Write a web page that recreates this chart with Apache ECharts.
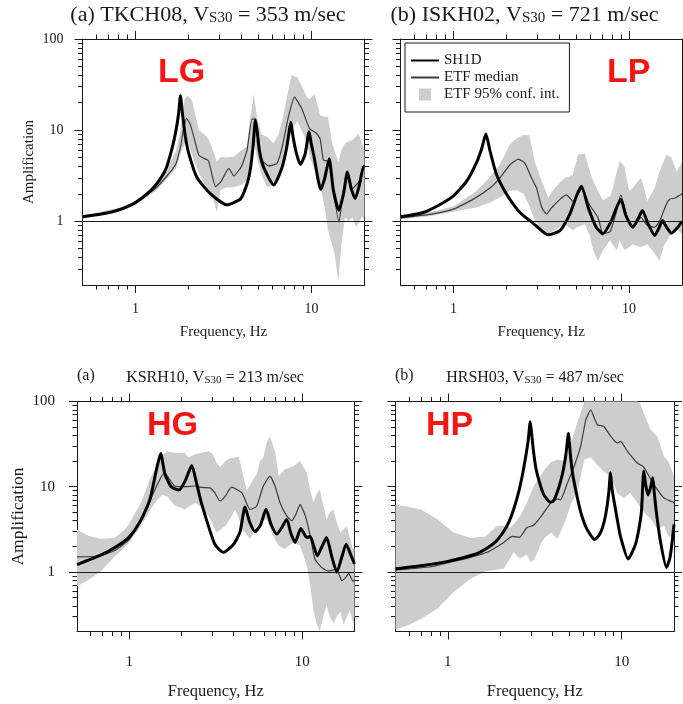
<!DOCTYPE html>
<html><head><meta charset="utf-8">
<script src="https://cdn.jsdelivr.net/npm/echarts@6/dist/echarts.min.js"></script>
<style>html,body{margin:0;padding:0;background:#fff}#c{width:683px;height:704px}</style>
</head><body><div id="c"></div>
<script>
// ---------- tick values ----------
const xMajorTicks = [1, 10];
const xMinorTicks = [0.6, 0.7, 0.8, 0.9, 2, 3, 4, 5, 6, 7, 8, 9];
const yMajorTicks = [1, 10, 100];
const yMinorTicks = [0.3, 0.4, 0.5, 0.6, 0.7, 0.8, 0.9, 2, 3, 4, 5, 6, 7, 8, 9, 20, 30, 40, 50, 60, 70, 80, 90];

// ---------- (a) TKCH08 ----------
const tlShX = [0.5, 0.64, 0.8, 1.0, 1.22, 1.38, 1.5, 1.62, 1.7, 1.76, 1.8, 1.85, 1.92, 2.01, 2.24, 2.67, 3.3, 3.95, 4.3, 4.5, 4.65, 4.8, 4.92, 5.05, 5.35, 6.1, 6.8, 7.2, 7.45, 7.63, 7.85, 8.2, 8.65, 9.2, 9.69, 9.95, 10.3, 11.3, 11.9, 12.6, 13.3, 14.3, 15.2, 16.0, 16.8, 17.7, 18.8, 19.7, 20];
const tlShY = [1.12, 1.2, 1.33, 1.61, 2.17, 2.9, 3.9, 6.5, 10, 15.5, 23.8, 15, 8.5, 5.5, 3.0, 2.0, 1.52, 1.76, 2.56, 3.8, 6.5, 12.9, 9.5, 6.0, 3.9, 2.5, 3.9, 6.2, 9.5, 12.2, 8.5, 5.6, 4.2, 5.5, 9.6, 7.2, 5.3, 2.23, 3.0, 4.85, 2.2, 1.32, 2.0, 3.48, 2.3, 1.78, 2.6, 3.95, 3.9];
const tlMedX = [0.5, 0.8, 1.0, 1.3, 1.5, 1.69, 1.8, 1.87, 1.95, 2.05, 2.2, 2.29, 2.45, 2.6, 2.85, 3.05, 3.39, 3.62, 4.0, 4.3, 4.59, 4.8, 5.0, 5.23, 5.7, 6.36, 6.78, 7.39, 8.0, 8.8, 9.74, 10.7, 11.2, 11.7, 12.7, 13.3, 14.3, 15.2, 16.0, 16.8, 17.9, 18.8, 19.7, 20];
const tlMedY = [1.11, 1.32, 1.57, 2.3, 3.1, 4.2, 6.5, 10, 13.5, 11.5, 7, 5.3, 4.9, 4.6, 2.4, 2.7, 3.8, 3.15, 4.0, 6.0, 13.2, 13.2, 8.0, 4.7, 4.05, 4.3, 6.3, 14, 23, 17.3, 10.4, 9.2, 8.0, 4.7, 4.5, 2.2, 0.98, 2.2, 3.2, 2.2, 2.5, 2.8, 4.1, 4.0];
const tlBandX = [0.5, 0.8, 1.0, 1.3, 1.5, 1.7, 1.8, 1.9, 1.97, 2.1, 2.29, 2.45, 2.6, 2.75, 2.9, 3.04, 3.3, 3.6, 4.0, 4.3, 4.5, 4.7, 4.9, 5.2, 5.6, 6.1, 6.5, 6.9, 7.3, 7.7, 8.3, 9.0, 9.4, 9.8, 10.4, 11.2, 11.9, 12.4, 13.1, 13.5, 14.2, 14.8, 15.5, 16.2, 17.1, 17.9, 18.5, 19.2, 20];
const tlBandLo = [1.07, 1.27, 1.5, 2.15, 2.9, 3.8, 5.5, 7.0, 7.8, 5.2, 3.4, 2.6, 2.1, 1.8, 1.26, 2.2, 2.36, 2.36, 2.5, 2.8, 4.5, 7.6, 5.0, 3.2, 2.36, 2.5, 3.0, 4.2, 6.5, 9.8, 12.6, 9.0, 7.0, 5.0, 3.6, 2.4, 1.4, 0.8, 0.55, 0.45, 0.22, 0.57, 1.1, 1.0, 1.1, 0.87, 0.95, 1.1, 1.1];
const tlBandHi = [1.16, 1.4, 1.68, 2.5, 3.6, 6.0, 10, 22, 24, 21, 10, 9, 8, 6, 4.5, 5.1, 5.0, 5.1, 6.0, 6.6, 14, 25, 14, 9, 8.4, 7.2, 9, 14, 25, 40, 38, 28, 23, 22, 25, 14.6, 14, 14, 7.2, 6, 4.5, 6, 7.2, 7.5, 7.8, 8.5, 9.2, 7.5, 6.0];

// ---------- (b) ISKH02 ----------
const trShX = [0.5, 0.675, 0.85, 1.0, 1.19, 1.36, 1.45, 1.53, 1.62, 1.76, 2.01, 2.39, 2.85, 3.46, 4.04, 4.6, 5.06, 5.36, 5.85, 6.5, 7.1, 7.9, 8.4, 8.97, 9.6, 10.5, 11.2, 11.9, 12.8, 14.0, 14.8, 15.5, 16.4, 17.4, 18.8, 20];
const trShY = [1.12, 1.25, 1.55, 1.9, 2.76, 4.5, 6.3, 9.05, 5.8, 3.26, 1.98, 1.25, 0.95, 0.71, 0.79, 1.2, 1.98, 2.43, 1.42, 0.86, 0.73, 1.0, 1.35, 1.75, 1.15, 0.86, 1.05, 1.31, 0.95, 0.70, 0.85, 1.02, 0.85, 0.74, 0.85, 1.0];
const trMedX = [0.5, 0.75, 1.0, 1.3, 1.62, 1.84, 2.1, 2.34, 2.55, 2.78, 2.97, 3.18, 3.39, 3.6, 4.04, 4.4, 4.8, 5.36, 5.97, 6.65, 7.1, 7.8, 8.4, 8.97, 9.87, 10.5, 11.7, 12.7, 14.0, 14.9, 16.3, 17.0, 18.3, 20];
const trMedY = [1.09, 1.2, 1.36, 1.75, 2.33, 3.0, 4.17, 4.8, 4.35, 3.0, 2.33, 1.42, 1.2, 1.39, 1.74, 1.95, 1.65, 2.25, 1.5, 1.1, 0.73, 0.77, 1.2, 1.95, 1.0, 0.86, 1.1, 0.9, 0.86, 1.0, 1.54, 1.75, 1.8, 2.0];
const trBandX = [0.5, 0.75, 1.0, 1.35, 1.6, 1.84, 2.09, 2.28, 2.5, 2.7, 2.91, 3.18, 3.47, 3.78, 4.3, 4.77, 5.13, 5.6, 5.97, 6.24, 6.65, 7.1, 7.8, 8.1, 8.5, 8.84, 9.4, 10.0, 10.5, 11.7, 12.7, 14.0, 14.9, 15.9, 16.3, 17.4, 18.7, 20];
const trBandLo = [1.05, 1.14, 1.28, 1.42, 1.6, 1.82, 2.15, 2.2, 2.0, 1.5, 1.0, 0.8, 0.73, 0.8, 0.93, 0.8, 0.87, 0.93, 0.7, 0.48, 0.37, 0.48, 0.62, 0.55, 0.48, 0.62, 0.48, 0.52, 0.56, 0.52, 0.56, 0.44, 0.37, 0.56, 0.6, 0.73, 0.8, 0.73];
const trBandHi = [1.15, 1.27, 1.45, 2.15, 3.0, 4.2, 6.9, 8.1, 8.85, 8.8, 4.5, 2.76, 1.82, 2.33, 3.0, 3.2, 5.4, 5.5, 3.54, 2.8, 2.15, 1.7, 1.9, 2.33, 3.5, 4.55, 4.0, 2.15, 2.33, 3.0, 1.67, 2.33, 3.5, 4.8, 5.4, 5.0, 3.5, 4.5];

// ---------- (a) KSRH10 ----------
const blShX = [0.5, 0.68, 0.85, 1.0, 1.15, 1.32, 1.44, 1.52, 1.61, 1.75, 1.94, 2.1, 2.3, 2.45, 2.61, 3.12, 3.5, 4.0, 4.36, 4.67, 4.95, 5.33, 5.75, 6.17, 6.6, 7.11, 7.6, 8.12, 8.6, 9.08, 9.8, 10.6, 11.1, 12.2, 13.0, 13.8, 14.8, 15.8, 16.9, 17.9, 19.0, 20];
const blShY = [1.22, 1.56, 2.0, 2.56, 3.84, 7.2, 16.1, 24.5, 14, 10, 9.15, 11.5, 17.7, 11, 6.5, 2.12, 1.70, 2.1, 2.93, 5.8, 3.9, 2.96, 3.6, 5.43, 3.6, 2.78, 3.3, 4.16, 2.8, 2.22, 3.24, 2.54, 2.6, 1.55, 2.0, 2.54, 1.5, 0.99, 1.5, 2.12, 1.6, 1.24];
const blMedX = [0.5, 0.69, 0.85, 1.0, 1.2, 1.4, 1.6, 1.83, 2.09, 2.4, 2.6, 2.93, 3.12, 3.35, 3.6, 3.9, 4.47, 4.99, 5.45, 5.95, 6.5, 6.95, 7.43, 8.12, 8.68, 9.2, 9.7, 10.4, 11.1, 11.8, 12.9, 14.1, 15.0, 15.8, 16.9, 17.7, 18.5, 19.6, 20];
const blMedY = [1.5, 1.55, 1.85, 2.4, 4.2, 9.0, 14.6, 10.2, 10, 10.2, 9.8, 9.7, 8.5, 6.8, 7.8, 9.9, 8.5, 5.4, 5.9, 10.2, 13.3, 10.2, 6.5, 4.55, 3.98, 4.8, 6.2, 4.55, 2.66, 1.42, 1.13, 1.02, 1.05, 1.07, 0.79, 0.85, 0.96, 0.78, 0.8];
const blBandX = [0.5, 0.58, 0.68, 0.82, 0.94, 1.0, 1.17, 1.34, 1.45, 1.55, 1.65, 1.83, 2.09, 2.2, 2.4, 2.6, 2.87, 3.05, 3.2, 3.35, 3.6, 3.85, 4.1, 4.3, 4.5, 4.77, 5.0, 5.2, 5.45, 5.7, 5.95, 6.2, 6.45, 6.7, 6.95, 7.3, 7.9, 8.87, 9.7, 10.6, 11.1, 11.6, 12.0, 12.6, 13.2, 13.8, 14.4, 15.1, 15.8, 16.6, 17.3, 18.1, 18.8, 19.6, 20];
const blBandLo = [0.68, 0.8, 1.0, 1.5, 1.94, 2.2, 3.48, 5.6, 7.0, 8.0, 7.8, 6.0, 5.4, 5.8, 6.5, 5.8, 4.55, 3.5, 2.9, 3.1, 3.48, 4.3, 5.4, 4.2, 3.18, 2.7, 2.43, 2.9, 3.48, 3.8, 4.0, 4.16, 3.4, 2.8, 2.4, 2.03, 1.86, 2.22, 2.03, 1.19, 0.69, 0.35, 0.26, 0.2, 0.3, 0.41, 0.3, 0.25, 0.3, 0.34, 0.24, 0.3, 0.36, 0.24, 0.3];
const blBandHi = [3.15, 2.66, 2.45, 2.5, 3.1, 3.7, 6.5, 13.3, 18, 23, 26, 25, 25, 22, 24, 25, 26, 24, 19, 17, 20, 21.8, 22, 22.5, 15, 9, 10.5, 12.2, 14, 20, 22, 32, 39, 33, 26, 13.3, 15.9, 17.4, 20, 14.6, 9, 6.5, 8, 9.3, 6, 4.16, 5, 5.4, 3.8, 2.9, 3.2, 3.4, 2.5, 1.86, 1.9];

// ---------- (b) HRSH03 ----------
const brShX = [0.5, 0.735, 1.0, 1.42, 1.68, 1.9, 2.1, 2.25, 2.39, 2.55, 2.69, 2.8, 2.9, 2.98, 3.05, 3.11, 3.22, 3.36, 3.55, 3.8, 3.92, 4.05, 4.27, 4.5, 4.65, 4.8, 4.94, 5.05, 5.2, 5.45, 5.82, 6.3, 7.0, 7.5, 7.92, 8.2, 8.45, 8.62, 8.8, 9.06, 9.5, 9.85, 10.9, 12.0, 12.6, 13.0, 13.4, 13.75, 14.2, 14.7, 15.1, 15.4, 15.8, 16.7, 18.1, 19.0, 20];
const brShY = [1.09, 1.2, 1.33, 1.6, 1.9, 2.3, 3.0, 3.9, 5.4, 8.5, 14, 22, 35, 58, 38, 26, 16, 11.4, 8.2, 6.8, 6.6, 6.8, 8.7, 12.5, 17, 26, 42, 26, 15, 9, 5.0, 3.2, 2.4, 2.8, 3.85, 5.5, 9, 14.6, 9.5, 6.6, 3.8, 2.6, 1.42, 2.1, 3.3, 5.2, 15.3, 10.5, 8.0, 10, 12.7, 8.5, 5.2, 2.3, 1.13, 1.5, 3.6];
const brMedX = [0.5, 0.8, 1.0, 1.3, 1.68, 2.1, 2.34, 2.59, 2.85, 3.1, 3.46, 3.92, 4.27, 4.45, 4.88, 5.33, 5.81, 6.22, 6.64, 7.0, 7.26, 7.9, 8.65, 9.4, 9.85, 10.8, 12.3, 13.4, 14.7, 16.0, 17.5, 19.0, 20];
const brMedY = [1.05, 1.15, 1.28, 1.45, 1.7, 2.22, 2.61, 2.55, 3.32, 3.5, 4.55, 6.5, 7.2, 7.0, 11.1, 17.4, 29.9, 61, 80, 62, 53, 51, 39, 32.6, 34, 26, 19, 17, 12.2, 9.3, 7.4, 6.8, 6.5];
const brBandX = [0.5, 0.6, 0.7, 0.87, 1.08, 1.35, 1.65, 1.92, 2.1, 2.28, 2.39, 2.6, 2.85, 3.0, 3.15, 3.46, 3.6, 3.92, 4.28, 4.7, 5.15, 5.33, 5.6, 5.8, 6.1, 6.64, 7.26, 7.9, 8.65, 9.4, 10.3, 11.2, 12.3, 12.8, 13.4, 14.7, 16.0, 17.5, 18.6, 20];
const brBandLo = [0.21, 0.24, 0.28, 0.37, 0.58, 0.83, 1.02, 1.06, 1.1, 1.45, 1.7, 1.44, 1.6, 1.3, 1.4, 2.22, 2.5, 2.9, 2.43, 3.8, 6.5, 7.5, 9.3, 13, 20.8, 22, 18, 15, 13.3, 8.5, 7.3, 8.5, 6.5, 5.7, 5.0, 4.2, 3.18, 3.48, 2.6, 2.6];
const brBandHi = [6.2, 5.8, 5.4, 4.16, 2.9, 2.5, 2.6, 3.48, 3.48, 3.3, 3.6, 4.5, 6.5, 8.5, 10.5, 14, 15.9, 19.5, 20.8, 20, 35, 42.7, 60, 73, 110, 130, 130, 130, 130, 130, 130, 130, 120, 95, 73, 46.6, 39, 22.8, 19.5, 13.3];

// ---------- styling ----------
const SERIF = '"Liberation Serif", "DejaVu Serif", "Times New Roman", serif';
const SANS = '"Liberation Sans", Arial, sans-serif';
const AX = '#1a1a1a', TXT = '#1a1a1a', BAND = '#cdcdcd', MED = '#3c3c3c', RED = '#f41515';

const panels = [
  {shX: tlShX, shY: tlShY, medX: tlMedX, medY: tlMedY, bX: tlBandX, lo: tlBandLo, hi: tlBandHi,
   grid: {left: 82.5, top: 39, width: 282, height: 246},
   c: {ls: 14, xm: 17, xng: 40, xns: 15, yLabels: true, ym: 19, yng: 46, yns: 15}},
  {shX: trShX, shY: trShY, medX: trMedX, medY: trMedY, bX: trBandX, lo: trBandLo, hi: trBandHi,
   grid: {left: 400.5, top: 39, width: 281.5, height: 246},
   c: {ls: 14, xm: 17, xng: 40, xns: 15, yLabels: false}},
  {shX: blShX, shY: blShY, medX: blMedX, medY: blMedY, bX: blBandX, lo: blBandLo, hi: blBandHi,
   grid: {left: 77, top: 401.5, width: 277.5, height: 230},
   c: {ls: 15, xm: 23, xng: 52, xns: 16.5, yLabels: true, ym: 22, yng: 50, yns: 17.5}},
  {shX: brShX, shY: brShY, medX: brMedX, medY: brMedY, bX: brBandX, lo: brBandLo, hi: brBandHi,
   grid: {left: 395.5, top: 401.5, width: 278.5, height: 230},
   c: {ls: 15, xm: 23, xng: 52, xns: 16.5, yLabels: false}}
];

function zip(a, b) { return a.map((v, i) => [v, b[i]]); }
const fmt = v => String(Math.round(v * 1000) / 1000);

function xAxes(gi, c) {
  const base = () => ({type: 'log', logBase: 10, min: 0.5, max: 20, gridIndex: gi, splitLine: {show: false}, axisPointer: {show: false}, silent: true});
  const line = {show: true, onZero: false, lineStyle: {color: AX, width: 1}};
  const tick = (vals, len) => ({show: true, inside: false, length: len, customValues: vals, lineStyle: {color: AX, width: 1}});
  return [
    Object.assign(base(), {position: 'bottom', axisLine: line, axisTick: tick(xMajorTicks, 8),
      axisLabel: {show: true, customValues: xMajorTicks, margin: c.xm, fontFamily: SERIF, fontSize: c.ls, color: TXT, formatter: fmt},
      name: 'Frequency, Hz', nameLocation: 'middle', nameGap: c.xng, nameTextStyle: {fontFamily: SERIF, fontSize: c.xns, color: TXT}}),
    Object.assign(base(), {position: 'bottom', axisLine: {show: false, onZero: false}, axisTick: tick(xMinorTicks, 4.5), axisLabel: {show: false}}),
    Object.assign(base(), {position: 'top', axisLine: line, axisTick: tick(xMajorTicks, 8), axisLabel: {show: false}}),
    Object.assign(base(), {position: 'top', axisLine: {show: false, onZero: false}, axisTick: tick(xMinorTicks, 4.5), axisLabel: {show: false}})
  ];
}
function yAxes(gi, c) {
  const base = () => ({type: 'log', logBase: 10, min: 0.2, max: 100, gridIndex: gi, splitLine: {show: false}, axisPointer: {show: false}, silent: true});
  const line = {show: true, onZero: false, lineStyle: {color: AX, width: 1}};
  const tick = (vals, len) => ({show: true, inside: false, length: len, customValues: vals, lineStyle: {color: AX, width: 1}});
  const left = Object.assign(base(), {position: 'left', axisLine: line, axisTick: tick(yMajorTicks, 8)});
  if (c.yLabels) {
    left.axisLabel = {show: true, customValues: yMajorTicks, margin: c.ym, fontFamily: SERIF, fontSize: c.ls, color: TXT, formatter: fmt};
    left.name = 'Amplification';
    left.nameLocation = 'middle';
    left.nameGap = c.yng;
    left.nameTextStyle = {fontFamily: SERIF, fontSize: c.yns, color: TXT};
  } else {
    left.axisLabel = {show: false};
  }
  return [
    left,
    Object.assign(base(), {position: 'left', axisLine: {show: false, onZero: false}, axisTick: tick(yMinorTicks, 4.5), axisLabel: {show: false}}),
    Object.assign(base(), {position: 'right', axisLine: line, axisTick: tick(yMajorTicks, 8), axisLabel: {show: false}}),
    Object.assign(base(), {position: 'right', axisLine: {show: false, onZero: false}, axisTick: tick(yMinorTicks, 4.5), axisLabel: {show: false}})
  ];
}

function bandSeries(gi, bx, lo, hi) {
  return {
    type: 'custom', name: 'ETF 95% conf. int.', xAxisIndex: gi * 4, yAxisIndex: gi * 4,
    data: bx.map((x, i) => [x, lo[i], hi[i]]),
    encode: {x: 0, y: [1, 2]},
    itemStyle: {color: BAND}, silent: true, z: 1,
    renderItem: function (params, api) {
      if (params.dataIndex !== 0) return null;
      const pts = [];
      for (let i = 0; i < bx.length; i++) pts.push(api.coord([bx[i], hi[i]]));
      for (let i = bx.length - 1; i >= 0; i--) pts.push(api.coord([bx[i], lo[i]]));
      const cs = params.coordSys;
      const clipped = echarts.graphic.clipPointsByRect(pts, {x: cs.x, y: cs.y, width: cs.width, height: cs.height});
      return {type: 'polygon', shape: {points: clipped}, style: {fill: BAND}};
    }
  };
}

const grids = [], xAxis = [], yAxis = [], series = [];
panels.forEach((p, gi) => {
  grids.push(Object.assign({containLabel: false, outerBoundsMode: 'none'}, p.grid));
  xAxis.push(...xAxes(gi, p.c));
  yAxis.push(...yAxes(gi, p.c));
  series.push(bandSeries(gi, p.bX, p.lo, p.hi));
  series.push({type: 'line', name: 'ETF median', xAxisIndex: gi * 4, yAxisIndex: gi * 4, data: zip(p.medX, p.medY),
    symbol: 'none', showSymbol: false, smooth: 0.15, lineStyle: {color: MED, width: 1.2}, itemStyle: {color: MED}, z: 3, silent: true, animation: false});
  series.push({type: 'line', name: 'SH1D', xAxisIndex: gi * 4, yAxisIndex: gi * 4, data: zip(p.shX, p.shY),
    symbol: 'none', showSymbol: false, smooth: 0.2, lineStyle: {color: '#000', width: 3, join: 'round'}, itemStyle: {color: '#000'}, z: 4, silent: true, animation: false,
    markLine: {silent: true, symbol: ['none', 'none'], label: {show: false}, animation: false,
      lineStyle: {color: AX, width: 1, type: 'solid'}, emphasis: {disabled: true}, data: [{yAxis: 1}]}});
});

function titleText(x, y, main1, sub, main2, size, subSize, pad) {
  return {type: 'text', x: x, y: y, silent: true, z: 10,
    style: {text: '{m|' + main1 + '}{s|' + sub + '}{m|' + main2 + '}',
      align: 'center', verticalAlign: 'middle', textAlign: 'center', textVerticalAlign: 'middle',
      rich: {
        m: {fontFamily: SERIF, fontSize: size, lineHeight: size, verticalAlign: 'top', fill: TXT, color: TXT},
        s: {fontFamily: SERIF, fontSize: subSize, lineHeight: subSize, verticalAlign: 'bottom', padding: [pad, 0, 0, 0], fill: TXT, color: TXT}
      }}};
}
function plainText(x, y, text, font, color, align) {
  return {type: 'text', x: x, y: y, silent: true, z: 10,
    style: {text: text, font: font, fill: color, align: align, verticalAlign: 'middle', textAlign: align, textVerticalAlign: 'middle'}};
}

const option = {
  animation: false,
  backgroundColor: '#ffffff',
  grid: grids, xAxis: xAxis, yAxis: yAxis, series: series,
  legend: {
    show: true, orient: 'vertical', left: 405, top: 43, padding: [10, 10, 10, 5], itemGap: 2,
    itemWidth: 28, itemHeight: 12, itemTextGap: 15, borderColor: AX, borderWidth: 1, borderRadius: 0,
    backgroundColor: '#ffffff', selectedMode: false,
    textStyle: {fontFamily: SERIF, fontSize: 15, color: TXT},
    data: [
      {name: 'SH1D', itemStyle: {opacity: 0}},
      {name: 'ETF median', itemStyle: {opacity: 0}},
      {name: 'ETF 95% conf. int.', icon: 'path://M0,0L10,0L10,10L0,10Z', itemStyle: {color: BAND}}
    ]
  },
  graphic: [
    titleText(208, 15, '(a) TKCH08, V', 'S30', ' = 353 m/sec', 22, 15, 8),
    titleText(524.5, 15, '(b) ISKH02, V', 'S30', ' = 721 m/sec', 22, 15, 8),
    plainText(77, 376, '(a)', '16px ' + SERIF, TXT, 'left'),
    titleText(215, 378, 'KSRH10, V', 'S30', ' = 213 m/sec', 16, 11, 6),
    plainText(395, 376, '(b)', '16px ' + SERIF, TXT, 'left'),
    titleText(535, 378, 'HRSH03, V', 'S30', ' = 487 m/sec', 16, 11, 6),
    plainText(158, 73, 'LG', 'bold 34px ' + SANS, RED, 'left'),
    plainText(607, 73, 'LP', 'bold 34px ' + SANS, RED, 'left'),
    plainText(147, 426, 'HG', 'bold 34px ' + SANS, RED, 'left'),
    plainText(426, 426, 'HP', 'bold 34px ' + SANS, RED, 'left')
  ]
};

const chart = echarts.init(document.getElementById('c'), null, {renderer: 'canvas'});
chart.setOption(option);
</script></body></html>
